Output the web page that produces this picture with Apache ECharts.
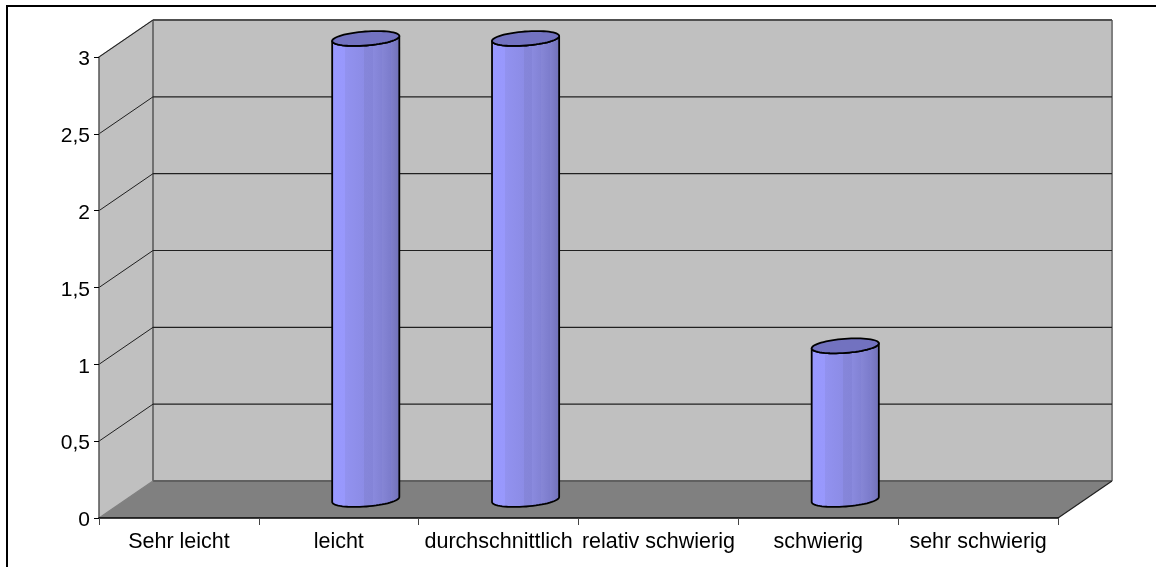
<!DOCTYPE html>
<html>
<head>
<meta charset="utf-8">
<style>html,body{margin:0;padding:0;background:#fff}#chart{width:1156px;height:567px}</style>
<script src="https://cdn.jsdelivr.net/npm/echarts@6/dist/echarts.min.js"></script>
</head>
<body>
<div id="chart"></div>
<script>
const categories = ['Sehr leicht', 'leicht', 'durchschnittlich', 'relativ schwierig', 'schwierig', 'sehr schwierig'];
const values = [0, 3, 3, 0, 1, 0];
const gridValues = [0.5, 1, 1.5, 2, 2.5, 3];

// Pseudo-3D depth of the chart box, in pixels
const DEPTH_X = 54;
const DEPTH_Y = -37;
const FONT = '"Liberation Sans", Arial, sans-serif';

function poly(points, style, z2) {
  return { type: 'polygon', shape: { points }, style, z2: z2 || 0 };
}
function line(a, b, stroke, lineWidth, z2) {
  return { type: 'line', shape: { x1: a[0], y1: a[1], x2: b[0], y2: b[1] },
           style: { stroke, lineWidth }, z2: z2 || 0 };
}

function renderBox(params, api) {
  const cs = params.coordSys;
  const x0 = cs.x, x1 = cs.x + cs.width;
  const y0 = api.coord([0, 0])[1], yTop = api.coord([0, 3])[1];
  const shift = (x, y) => [x + DEPTH_X, y + DEPTH_Y];
  return { type: 'group', children: [
    poly([[x0, y0], shift(x0, y0), shift(x0, yTop), [x0, yTop]], { fill: '#c0c0c0' }),
    poly([shift(x0, y0), shift(x1, y0), shift(x1, yTop), shift(x0, yTop)], { fill: '#c0c0c0' }),
    poly([[x0, y0], shift(x0, y0), shift(x1, y0), [x1, y0]], { fill: '#808080' }),
    line(shift(x0, yTop), shift(x1, yTop), '#808080', 2, 2),
    line(shift(x1, yTop), shift(x1, y0), '#808080', 2, 2),
    line(shift(x0, yTop), shift(x0, y0), '#707070', 2, 2),
    line(shift(x0, y0), shift(x1, y0), '#606060', 2, 2),
    line([x0, yTop], shift(x0, yTop), '#808080', 1.4, 2),
    line([x0, y0], shift(x0, y0), '#808080', 1.4, 2),
    line([x1, y0], shift(x1, y0), '#202020', 1.2, 2)
  ] };
}

function renderGridLine(params, api) {
  const cs = params.coordSys;
  const y = api.coord([0, api.value(0)])[1];
  const back = [cs.x + DEPTH_X, y + DEPTH_Y];
  return { type: 'group', children: [
    line([cs.x, y], back, '#202020', 1),
    line(back, [cs.x + cs.width + DEPTH_X, y + DEPTH_Y], '#202020', 1.2)
  ] };
}

// Ellipse seen in oblique view, tilted slightly upward to the right
function ellipsePoint(c, t, rx) {
  return [c[0] + rx * Math.cos(t) + 0.6 * Math.sin(t),
          c[1] - 2.6 * Math.cos(t) + 7 * Math.sin(t)];
}

function renderCylinder(params, api) {
  const v = api.value(1);
  if (!v) return null;
  const base = api.coord([api.value(0), 0]);
  const top = api.coord([api.value(0), v]);
  const cb = [base[0] + DEPTH_X / 2, base[1] + DEPTH_Y / 2];
  const ct = [top[0] + DEPTH_X / 2, top[1] + DEPTH_Y / 2];
  const rx = api.size([1, 0])[0] * 0.21;
  const steps = 64;
  const body = [];
  // front half of the base, then up the right side and across the top rim
  for (let i = steps / 2; i >= 0; i--) body.push(ellipsePoint(cb, Math.PI * i / (steps / 2), rx));
  for (let i = 0; i <= steps / 2; i++) body.push(ellipsePoint(ct, Math.PI * i / (steps / 2), rx));
  const cap = [];
  for (let i = 0; i < steps; i++) cap.push(ellipsePoint(ct, 2 * Math.PI * i / steps, rx));
  const bands = [
    [0, '#9999ff'], [0.2, '#9898fc'], [0.2, '#9292f0'], [0.47, '#8c8ce6'],
    [0.47, '#8686da'], [0.6, '#8484d8'], [0.6, '#8a8ade'], [0.73, '#8282d4'],
    [0.73, '#8686d6'], [0.86, '#7c7ccc'], [0.86, '#8080cc'], [1, '#7070b6']
  ].map(([offset, color]) => ({ offset, color }));
  return { type: 'group', children: [
    poly(body, { fill: new echarts.graphic.LinearGradient(0, 0, 1, 0, bands),
                 stroke: '#000', lineWidth: 1.8, lineJoin: 'round' }, 5),
    poly(cap, { fill: '#7272c0', stroke: '#000', lineWidth: 1.8 }, 6)
  ] };
}

const chart = echarts.init(document.getElementById('chart'), null, { renderer: 'canvas' });
chart.setOption({
  animation: false,
  backgroundColor: '#fff',
  textStyle: { fontFamily: FONT },
  grid: { left: 99, right: 98, top: 57, bottom: 49 },
  xAxis: {
    type: 'category', data: categories, boundaryGap: true, z: 10,
    axisLine: { lineStyle: { color: '#000', width: 1.5 } },
    axisTick: { show: true, alignWithLabel: false, length: 7, lineStyle: { color: '#444', width: 1 } },
    axisLabel: { color: '#000', fontSize: 21.5, fontFamily: FONT, margin: 13, interval: 0 }
  },
  yAxis: {
    type: 'value', min: 0, max: 3, interval: 0.5, z: 10,
    splitLine: { show: false },
    axisLine: { show: true, lineStyle: { color: '#555', width: 1.5 } },
    axisTick: { show: true, length: 5, lineStyle: { color: '#000', width: 1 } },
    axisLabel: { color: '#000', fontSize: 21, fontFamily: FONT, margin: 9,
                 verticalAlign: 'top', lineHeight: 5,
                 formatter: v => String(v).replace('.', ',') }
  },
  series: [
    { type: 'custom', z: 1, renderItem: renderBox, data: [[0]], silent: true,
      encode: { x: 0 }, clip: false },
    { type: 'custom', z: 2, renderItem: renderGridLine, silent: true, clip: false,
      data: gridValues.map(v => [v]), encode: { y: 0 } },
    { type: 'custom', z: 3, renderItem: renderCylinder, clip: false,
      data: values.map((v, i) => [i, v]), encode: { x: 0, y: 1 } }
  ],
  graphic: [
    { type: 'line', silent: true, shape: { x1: 7, y1: 6, x2: 1156, y2: 6 }, style: { stroke: '#000', lineWidth: 2 } },
    { type: 'line', silent: true, shape: { x1: 7, y1: 5, x2: 7, y2: 567 }, style: { stroke: '#000', lineWidth: 2 } }
  ]
});
</script>
</body>
</html>
